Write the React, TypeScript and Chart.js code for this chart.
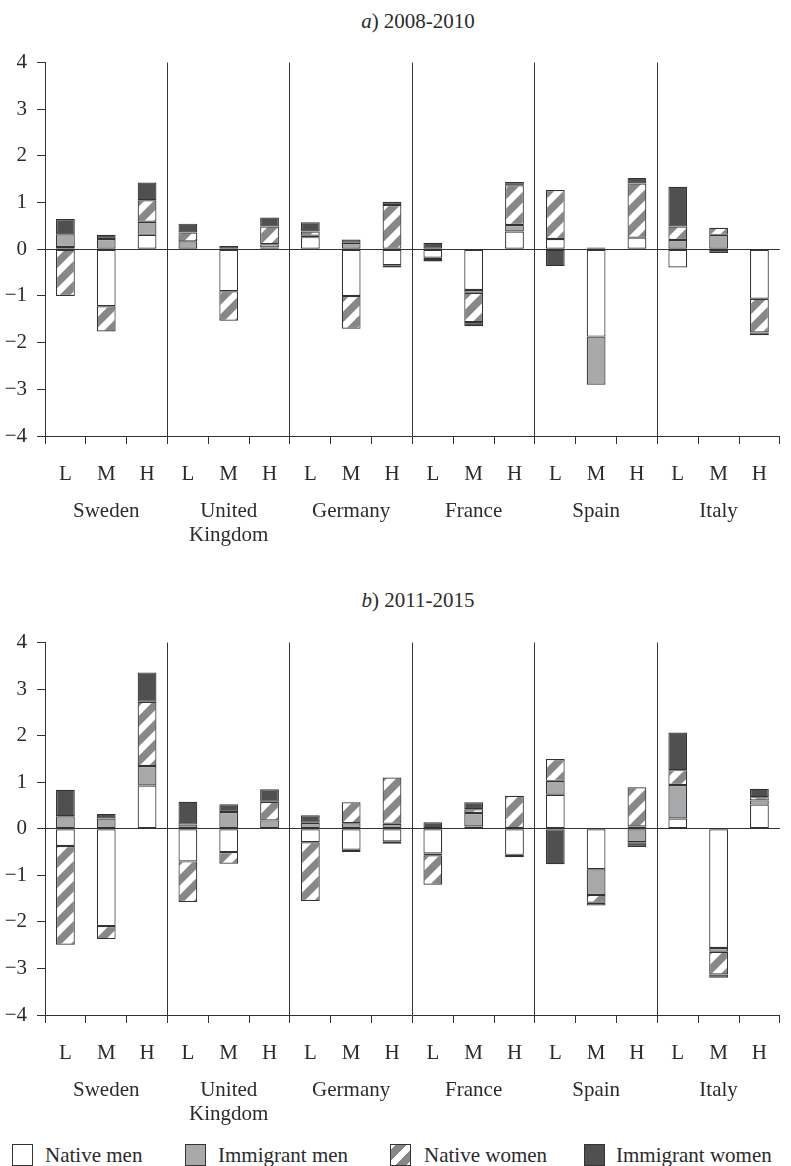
import React, { useEffect, useRef } from "react";
import { Chart, registerables } from "chart.js";
Chart.register(...registerables);

// ---------- data ----------
const levels = ["L", "M", "H"];
const countries: string[][] = [["Sweden"], ["United", "Kingdom"], ["Germany"], ["France"], ["Spain"], ["Italy"]];
const seriesNames = ["Native men", "Immigrant men", "Native women", "Immigrant women"];
const yMin = -4;
const yMax = 4;

// order: Sweden L,M,H | UK L,M,H | Germany L,M,H | France L,M,H | Spain L,M,H | Italy L,M,H
const nativeMenA = [0.05, -1.22, 0.31, 0, -0.9, 0.04, 0.26, -1.0, -0.34, -0.18, -0.87, 0.38, 0.22, -1.87, 0.25, -0.39, 0, -1.06];
const immigrantMenA = [0.27, 0.22, 0.28, 0.17, 0, 0.07, 0.03, 0.14, -0.05, -0.03, -0.06, 0.14, 0, -1.03, 0, 0.2, 0.31, 0];
const nativeWomenA = [-1.0, -0.54, 0.46, 0.19, -0.63, 0.38, 0.09, -0.7, 0.95, -0.05, -0.63, 0.85, 1.05, 0, 1.16, 0.29, 0.15, -0.72];
const immigrantWomenA = [0.33, 0.09, 0.38, 0.19, 0.07, 0.19, 0.2, 0.07, 0.07, 0.14, -0.09, 0.07, -0.36, 0.04, 0.12, 0.85, -0.08, -0.06];

const nativeMenB = [-0.37, -2.09, 0.93, -0.7, -0.5, 0, -0.29, -0.45, -0.27, -0.53, 0.05, -0.56, 0.73, -0.87, 0.05, 0.22, -2.56, 0.52];
const immigrantMenB = [0.27, 0.22, 0.42, 0.09, 0.36, 0.18, 0.13, 0.12, 0.11, -0.04, 0.29, 0, 0.3, -0.55, -0.29, 0.72, -0.08, 0.09];
const nativeWomenB = [-2.12, -0.28, 1.38, -0.87, -0.25, 0.4, -1.26, 0.45, 0.99, -0.63, 0.08, 0.71, 0.47, -0.17, 0.84, 0.32, -0.49, 0.07];
const immigrantWomenB = [0.57, 0.1, 0.63, 0.49, 0.17, 0.27, 0.16, -0.05, -0.05, 0.14, 0.15, -0.05, -0.76, -0.06, -0.1, 0.81, -0.07, 0.18];

// ---------- styling ----------
const FONT = "'Liberation Serif', 'Times New Roman', serif";
const TEXT = "#2b2b2b";
const LINE = "#333333";
const WHITE = "#ffffff";
const LIGHT = "#a8a9ab";
const DARK = "#505050";
const HATCH = "#878787";

function buildLabels(): (string | string[])[] {
  const out: (string | string[])[] = [];
  countries.forEach((c) => {
    levels.forEach((l) => {
      if (l === "M") {
        const lines = ["M", "", ""];
        c.forEach((w, i) => {
          if (i > 0) lines.push("");
          lines.push(w);
        });
        out.push(lines);
      } else out.push(l);
    });
  });
  return out;
}

function makePattern(): CanvasPattern | string {
  const s = 20;
  const c = document.createElement("canvas");
  c.width = s;
  c.height = s;
  const g = c.getContext("2d");
  if (!g) return HATCH;
  g.fillStyle = WHITE;
  g.fillRect(0, 0, s, s);
  g.strokeStyle = HATCH;
  g.lineWidth = 7.5;
  g.beginPath();
  for (const o of [-s, 0, s]) {
    g.moveTo(o - s, 2 * s);
    g.lineTo(o + 2 * s, -s);
  }
  g.stroke();
  const p = g.createPattern(c, "repeat");
  return p || HATCH;
}

const nz = (arr: number[]) => arr.map((v) => (v === 0 ? null : v));

function makeChart(
  canvas: HTMLCanvasElement,
  series: number[][],
  padTop: number,
  xHeight: number,
  pattern: CanvasPattern | string
) {
  const fills = [WHITE, LIGHT, pattern, DARK];
  const n = levels.length * countries.length;
  return new Chart(canvas, {
    type: "bar",
    data: {
      labels: buildLabels(),
      datasets: series.map((d, i) => ({
        label: seriesNames[i],
        data: nz(d),
        backgroundColor: fills[i] as any,
        borderColor: LINE,
        borderWidth: 1.2,
        borderSkipped: false,
        barPercentage: 0.46,
        categoryPercentage: 1,
      })),
    },
    options: {
      animation: false,
      responsive: false,
      maintainAspectRatio: false,
      devicePixelRatio: 1,
      layout: { padding: { top: padTop, left: 0, right: 0, bottom: 0 } },
      plugins: { legend: { display: false }, tooltip: { enabled: false }, title: { display: false } },
      scales: {
        x: {
          stacked: true,
          offset: true,
          grid: {
            offset: true,
            drawTicks: true,
            tickLength: 8,
            tickColor: LINE,
            lineWidth: 1,
            color: (ctx: any) =>
              ctx.index % 3 === 0 && ctx.index > 0 && ctx.index < n ? LINE : "rgba(0,0,0,0)",
          },
          border: { display: true, color: LINE, width: 1 },
          ticks: {
            autoSkip: false,
            maxRotation: 0,
            minRotation: 0,
            padding: 24,
            color: TEXT,
            font: { family: FONT, size: 21, lineHeight: "12.3px" },
          },
          afterFit: (s: any) => {
            s.height = xHeight;
          },
        },
        y: {
          stacked: true,
          min: yMin,
          max: yMax,
          ticks: {
            stepSize: 1,
            padding: 10,
            color: TEXT,
            font: { family: FONT, size: 21 },
            callback: (v: any) => (Number(v) < 0 ? "\u2212" + Math.abs(Number(v)) : String(v)),
          },
          grid: {
            drawTicks: true,
            tickLength: 8,
            tickColor: LINE,
            lineWidth: 1,
            color: (ctx: any) => (ctx.tick && ctx.tick.value === 0 ? LINE : "rgba(0,0,0,0)"),
          },
          border: { display: true, color: LINE, width: 1 },
          afterFit: (s: any) => {
            s.width = 45;
          },
        },
      },
    },
  });
}

const titleStyle: React.CSSProperties = {
  position: "absolute",
  left: 0,
  width: 836,
  textAlign: "center",
  fontFamily: FONT,
  fontSize: 21,
  lineHeight: "21px",
  color: TEXT,
  whiteSpace: "nowrap",
};

const legendItems = [
  { box: 12, text: 45 },
  { box: 185, text: 218 },
  { box: 390, text: 424 },
  { box: 584, text: 616 },
];

export default function App() {
  const refA = useRef<HTMLCanvasElement>(null);
  const refB = useRef<HTMLCanvasElement>(null);

  useEffect(() => {
    const pattern = makePattern();
    const a = makeChart(refA.current!, [nativeMenA, immigrantMenA, nativeWomenA, immigrantWomenA], 20, 124, pattern);
    const b = makeChart(refB.current!, [nativeMenB, immigrantMenB, nativeWomenB, immigrantWomenB], 19, 115, pattern);
    return () => {
      a.destroy();
      b.destroy();
    };
  }, []);

  const swatch = (i: number): React.CSSProperties => {
    const base: React.CSSProperties = {
      position: "absolute",
      top: 1144,
      width: 21,
      height: 22,
      boxSizing: "border-box",
      border: `1.2px solid ${LINE}`,
    };
    if (i === 0) base.background = WHITE;
    if (i === 1) base.background = LIGHT;
    if (i === 3) base.background = DARK;
    if (i === 2)
      base.background = `repeating-linear-gradient(135deg, ${WHITE} 0px, ${WHITE} 3.4px, ${HATCH} 3.4px, ${HATCH} 10.7px, ${WHITE} 10.7px, ${WHITE} 14.1px)`;
    return base;
  };

  return (
    <div
      style={{
        position: "absolute",
        left: 0,
        top: 0,
        width: 791,
        height: 1166,
        background: "#fff",
        overflow: "hidden",
      }}
    >
      <div style={{ ...titleStyle, top: 11 }}>
        <i>a</i>) 2008-2010
      </div>
      <canvas ref={refA} width={791} height={520} style={{ position: "absolute", left: 0, top: 40, width: 791, height: 520 }} />
      <div style={{ ...titleStyle, top: 590 }}>
        <i>b</i>) 2011-2015
      </div>
      <canvas ref={refB} width={791} height={510} style={{ position: "absolute", left: 0, top: 620, width: 791, height: 510 }} />
      {seriesNames.map((name, i) => (
        <React.Fragment key={name}>
          <div style={{ ...swatch(i), left: legendItems[i].box }} />
          <div
            style={{
              position: "absolute",
              top: 1145,
              left: legendItems[i].text,
              fontFamily: FONT,
              fontSize: 21,
              lineHeight: "21px",
              color: TEXT,
              whiteSpace: "nowrap",
            }}
          >
            {name}
          </div>
        </React.Fragment>
      ))}
    </div>
  );
}
